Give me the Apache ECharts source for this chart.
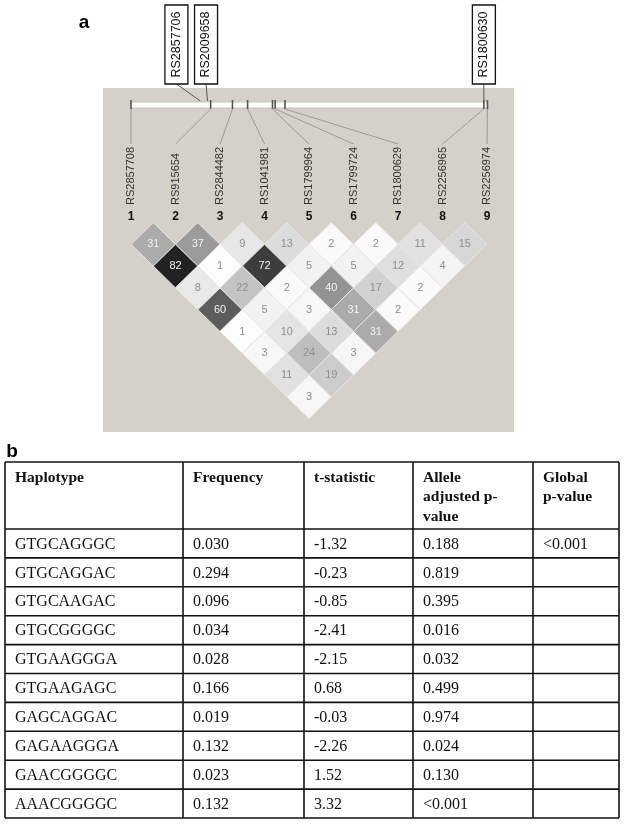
<!DOCTYPE html>
<html>
<head>
<meta charset="utf-8">
<script src="https://cdn.jsdelivr.net/npm/echarts@6/dist/echarts.min.js"></script>
<style>
html,body{margin:0;padding:0;background:#fff;}
#chart{width:624px;height:824px;}
</style>
</head>
<body>
<div id="chart"></div>
<script>
// ---------- DATA ----------
const snpNames = ['RS2857708','RS915654','RS2844482','RS1041981','RS1799964','RS1799724','RS1800629','RS2256965','RS2256974'];
const snpNumbers = ['1','2','3','4','5','6','7','8','9'];
// relative physical positions of the SNPs along the map bar (in marker-spacing units)
const snpMapPos = [1.0, 2.79, 3.28, 3.62, 4.18, 4.24, 4.46, 8.93, 9.01];
const mapExtent = [1.0, 9.02];
const tagNames = ['RS2857706','RS2009658','RS1800630'];
const tagMapPos = [2.56, 2.72, 8.93];
// LD values (r^2 x 100), row d = distance between markers (pairs (i, i+d))
const ldRow1 = [31, 37, 9, 13, 2, 2, 11, 15];
const ldRow2 = [82, 1, 72, 5, 5, 12, 4];
const ldRow3 = [8, 22, 2, 40, 17, 2];
const ldRow4 = [60, 5, 3, 31, 2];
const ldRow5 = [1, 10, 13, 31];
const ldRow6 = [3, 24, 3];
const ldRow7 = [11, 19];
const ldRow8 = [3];
const ldRows = [ldRow1, ldRow2, ldRow3, ldRow4, ldRow5, ldRow6, ldRow7, ldRow8];

// table
const tableHeaders = ['Haplotype', 'Frequency', 't-statistic', 'Allele\nadjusted p-\nvalue', 'Global\np-value'];
const haplotypes = ['GTGCAGGGC','GTGCAGGAC','GTGCAAGAC','GTGCGGGGC','GTGAAGGGA','GTGAAGAGC','GAGCAGGAC','GAGAAGGGA','GAACGGGGC','AAACGGGGC'];
const frequencies = ['0.030','0.294','0.096','0.034','0.028','0.166','0.019','0.132','0.023','0.132'];
const tStatistics = ['-1.32','-0.23','-0.85','-2.41','-2.15','0.68','-0.03','-2.26','1.52','3.32'];
const alleleP = ['0.188','0.819','0.395','0.016','0.032','0.499','0.974','0.024','0.130','<0.001'];
const globalP = ['<0.001','','','','','','','','',''];

// ---------- BUILD ----------
const chart = echarts.init(document.getElementById('chart'), null, {renderer: 'canvas'});

const ldData = [];
ldRows.forEach((row, di) => {
  const d = di + 1;
  row.forEach((v, k) => {
    const i = k + 1;
    ldData.push([i + d / 2, d, v]);
  });
});
const markerData = snpNames.map((n, k) => [k + 1, snpMapPos[k], k]);
const tagData = tagNames.map((n, k) => [tagMapPos[k], k]);

const sans = 'Liberation Sans, Arial, sans-serif';
const serif = 'Liberation Serif, Times New Roman, serif';

function ldColor(v) {
  const g = Math.max(0, Math.min(255, Math.round(255 - v * 2.7)));
  return 'rgb(' + g + ',' + g + ',' + g + ')';
}

// Map layout (pixel offsets for annotation parts)
const BAR_TOP = 102, BAR_BOT = 108;
const LABEL_TOP_Y = 144, LABEL_BASE_Y = 205, NUM_Y = 217;
const BOX_TOP = 5, BOX_BOT = 84, BOX_W = 23;
const tagBoxOffset = [-24, -1.5, 0];

// table graphics
const tableGraphics = [];
const colX = [5, 183, 304, 413, 533, 619];
const tTop = 462, headBot = 529, rowH = 28.9;
const nRows = haplotypes.length;
const tBot = headBot + nRows * rowH;
const cols = [haplotypes, frequencies, tStatistics, alleleP, globalP];
const hLines = [tTop, headBot];
for (let r = 1; r <= nRows; r++) hLines.push(headBot + r * rowH);
hLines.forEach(y => tableGraphics.push({type: 'line', shape: {x1: colX[0], y1: y, x2: colX[5], y2: y}, style: {stroke: '#111', lineWidth: 1.6}}));
colX.forEach(x => tableGraphics.push({type: 'line', shape: {x1: x, y1: tTop, x2: x, y2: tBot}, style: {stroke: '#111', lineWidth: 1.6}}));
tableHeaders.forEach((h, c) => {
  tableGraphics.push({type: 'text', x: colX[c] + 10, y: tTop + 6, style: {text: h, fill: '#111', font: 'bold 15.5px ' + serif, lineHeight: 19.5, align: 'left', verticalAlign: 'top'}});
});
cols.forEach((col, c) => {
  col.forEach((val, r) => {
    if (!val) return;
    tableGraphics.push({type: 'text', x: colX[c] + 10, y: headBot + r * rowH + rowH / 2 + 1, style: {text: val, fill: '#111', font: '16px ' + serif, align: 'left', verticalAlign: 'middle'}});
  });
});

const option = {
  animation: false,
  backgroundColor: '#ffffff',
  grid: {left: 86.5, top: 222.5, width: 445, height: 196.2},
  xAxis: {type: 'value', min: 0, max: 10, show: false},
  yAxis: {type: 'value', min: 0, max: 9, inverse: true, show: false},
  graphic: [
    {type: 'rect', z: -10, shape: {x: 103, y: 88, width: 411, height: 344}, style: {fill: '#d5d1c9'}},
    {type: 'text', x: 84, y: 23, style: {text: 'a', font: 'bold 19px ' + sans, fill: '#000', align: 'center', verticalAlign: 'middle'}},
    {type: 'text', x: 12, y: 452, style: {text: 'b', font: 'bold 19px ' + sans, fill: '#000', align: 'center', verticalAlign: 'middle'}}
  ].concat(tableGraphics),
  series: [
    {
      type: 'custom', name: 'mapbar', z: 2,
      data: [[mapExtent[0], mapExtent[1]]],
      renderItem: function (params, api) {
        const x1 = api.coord([api.value(0), 0])[0];
        const x2 = api.coord([api.value(1), 0])[0];
        return {type: 'rect', shape: {x: x1, y: BAR_TOP, width: x2 - x1, height: BAR_BOT - BAR_TOP}, style: {fill: '#ffffff', stroke: '#c4c4c4', lineWidth: 1}};
      }
    },
    {
      type: 'custom', name: 'markers', z: 3,
      data: markerData,
      renderItem: function (params, api) {
        const lx = api.coord([api.value(0), 0])[0];
        const tx = api.coord([api.value(1), 0])[0];
        const k = api.value(2);
        return {
          type: 'group',
          children: [
            {type: 'line', shape: {x1: tx, y1: BAR_TOP - 2, x2: tx, y2: BAR_BOT + 1}, style: {stroke: '#555', lineWidth: 1.6}},
            {type: 'line', shape: {x1: tx, y1: BAR_BOT + 1, x2: lx, y2: LABEL_TOP_Y}, style: {stroke: '#9a9a9a', lineWidth: 1}},
            {type: 'text', x: lx, y: LABEL_BASE_Y, rotation: Math.PI / 2,
              style: {text: snpNames[k], x: 0, y: 0, align: 'left', verticalAlign: 'middle', fill: '#333', font: '11px ' + sans}},
            {type: 'text', x: lx, y: NUM_Y,
              style: {text: snpNumbers[k], x: 0, y: 0, align: 'center', verticalAlign: 'middle', fill: '#111', font: 'bold 12px ' + sans}}
          ]
        };
      }
    },
    {
      type: 'custom', name: 'tags', z: 3,
      data: tagData,
      renderItem: function (params, api) {
        const tx = api.coord([api.value(0), 0])[0];
        const k = api.value(1);
        const bx = tx + tagBoxOffset[k];
        return {
          type: 'group',
          children: [
            {type: 'line', shape: {x1: bx, y1: BOX_BOT, x2: tx, y2: BAR_TOP - 1}, style: {stroke: '#555', lineWidth: 1}},
            {type: 'rect', shape: {x: bx - BOX_W / 2, y: BOX_TOP, width: BOX_W, height: BOX_BOT - BOX_TOP}, style: {fill: '#fff', stroke: '#111', lineWidth: 1.3}},
            {type: 'text', x: bx, y: (BOX_TOP + BOX_BOT) / 2, rotation: Math.PI / 2,
              style: {text: tagNames[k], x: 0, y: 0, align: 'center', verticalAlign: 'middle', fill: '#111', font: '12.5px ' + sans}}
          ]
        };
      }
    },
    {
      type: 'custom', name: 'LD', z: 4,
      data: ldData,
      encode: {x: 0, y: 1},
      renderItem: function (params, api) {
        const x = api.value(0), y = api.value(1), v = api.value(2);
        const c = api.coord([x, y]);
        const pts = [api.coord([x - 0.5, y]), api.coord([x, y - 1]), api.coord([x + 0.5, y]), api.coord([x, y + 1])];
        return {
          type: 'group',
          children: [
            {type: 'polygon', shape: {points: pts}, style: {fill: ldColor(v), stroke: '#e9e7e3', lineWidth: 1}},
            {type: 'text', x: c[0], y: c[1], style: {text: String(v), x: 0, y: 0, align: 'center', verticalAlign: 'middle',
              fill: v >= 28 ? '#f2f2f2' : '#8f8f8f', font: '11px ' + sans}}
          ]
        };
      }
    }
  ]
};
chart.setOption(option);
</script>
</body>
</html>
